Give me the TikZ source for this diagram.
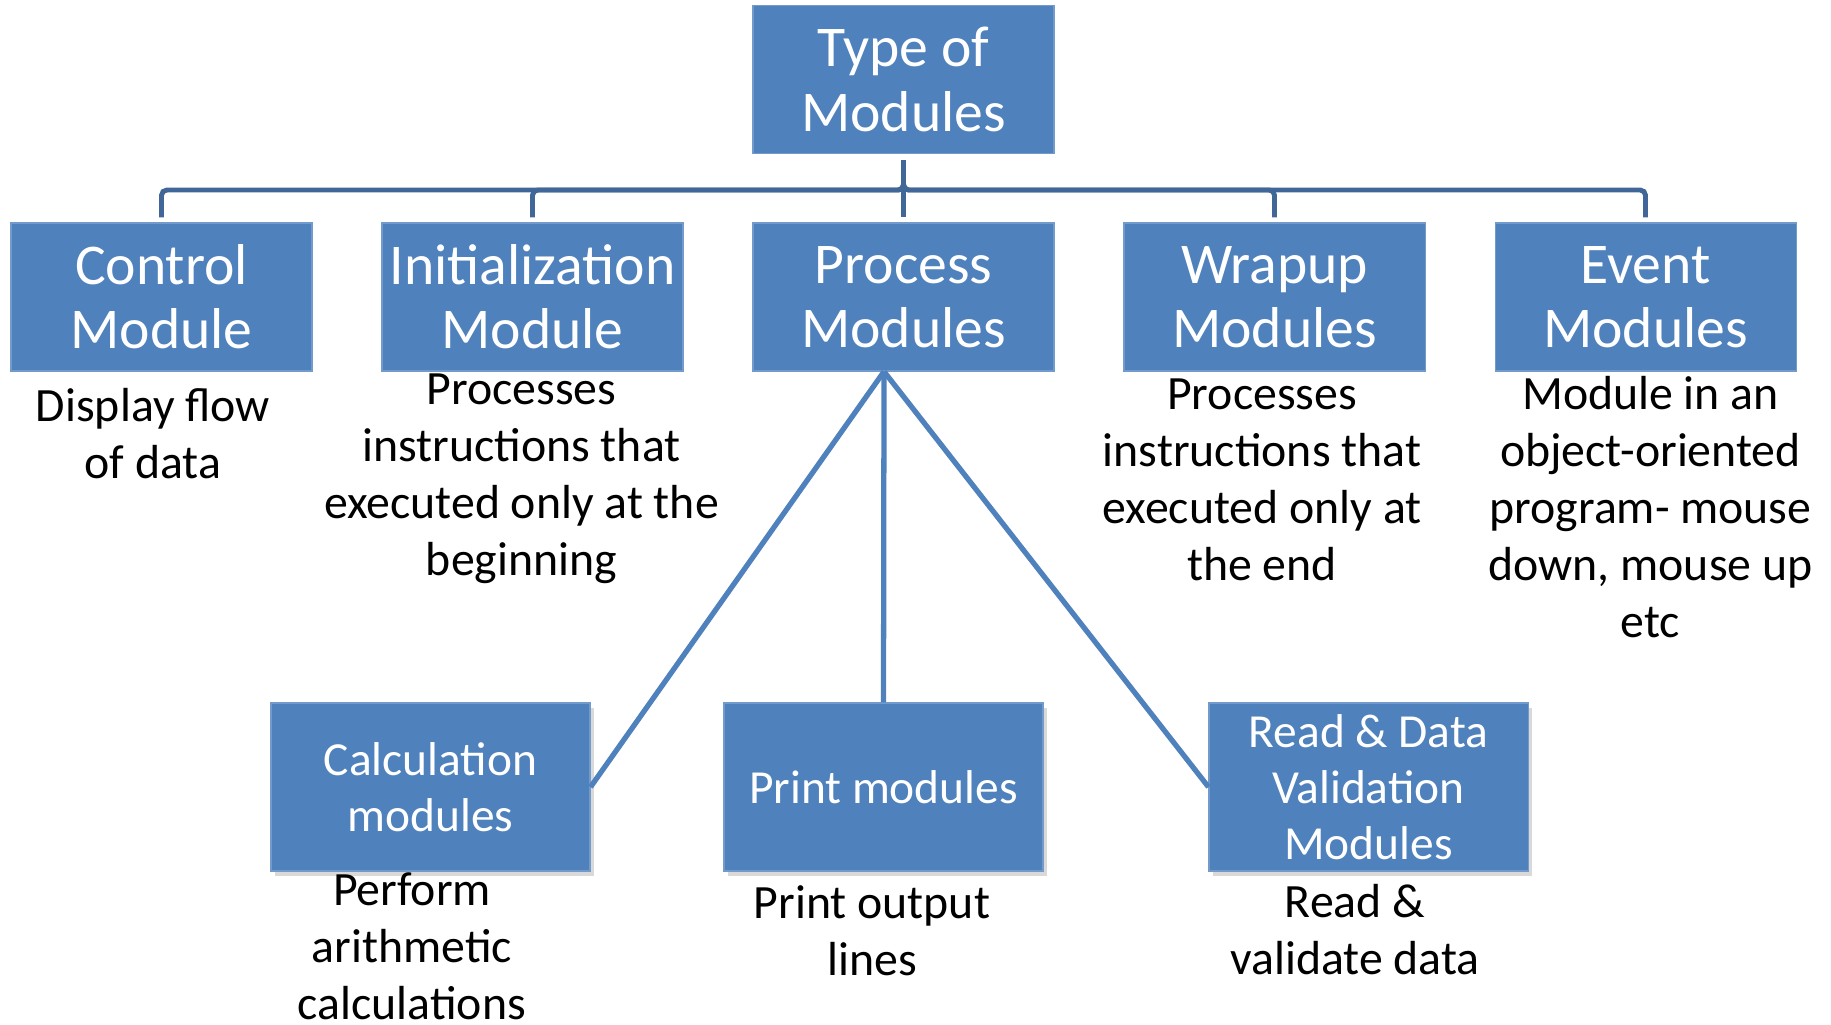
\documentclass[tikz,border=0pt]{standalone}
\usepackage{fontspec}
\setmainfont{Carlito}
\usepackage{tikz}
\usetikzlibrary{arrows,shapes,positioning,shadows,trees}
\usetikzlibrary{calc}

\definecolor{modblue}{RGB}{79,129,189}
\definecolor{linkblue}{RGB}{65,103,152}

\begin{document}
\begin{tikzpicture}[
    % 每層的垂直距離與水平距離
    level 1/.style={sibling distance=3.71cm, level distance=2.175cm},
    level 2/.style={sibling distance=4.7cm, level distance=4.9cm,
        edge from parent/.style={draw=modblue, line width=1.5pt, rounded corners=0pt}},
    % 第一層的折線
    edge from parent/.style={draw=linkblue, line width=1.4pt, rounded corners=1.5pt},
    edge from parent path={([yshift=-0.06cm]\tikzparentnode.south) -- ++(0,-0.3)
        -| ([yshift=0.05cm]\tikzchildnode.north)},
    % 第二層的直線 (由 Process 下方出發)
    leg east/.style={edge from parent path={([xshift=-0.195cm]\tikzparentnode.south) -- (\tikzchildnode.east)}},
    leg north/.style={edge from parent path={([xshift=-0.195cm]\tikzparentnode.south) -- (\tikzchildnode.north)}},
    leg west/.style={edge from parent path={([xshift=-0.195cm]\tikzparentnode.south) -- (\tikzchildnode.west)}},
    % --- 定義節點樣式 ---
    % 上面兩層的方塊
    modbox/.style={
        rectangle,
        fill=modblue,
        draw=modblue!80!white,
        line width=0.3pt,
        text=white,
        minimum width=3.01cm,
        minimum height=1.48cm,
        inner sep=0pt,
        align=center,
        font=\fontsize{16.4}{18.3}\selectfont
    },
    % 下層的方塊 (有陰影)
    subbox/.style={
        modbox,
        minimum width=3.19cm,
        minimum height=1.68cm,
        drop shadow={shadow xshift=0.04cm, shadow yshift=-0.05cm, opacity=0.3},
        font=\fontsize{13.5}{15.9}\selectfont
    },
    % 說明文字 (base = 最後一行的基線)
    note/.style={
        align=center,
        inner sep=0pt,
        anchor=base,
        font=\fontsize{13.6}{16.2}\selectfont
    }
]
\useasboundingbox (0,0) rectangle (18.31,-10.24);

% --- 繪製樹狀結構 ---
% 根節點
\node[modbox] (types) at (9.035,-0.795) {Type of\\Modules}
    child { node[modbox] (ctrl) {Control\\Module} }
    child { node[modbox] (init) {Initialization\\Module} }
    child {
        node[modbox] (proc) {Process\\Modules}
        % Process 的子節點
        child[leg east, xshift=-0.03cm] { node[subbox] (calc) {Calculation\\modules} }
        child[leg north, xshift=-0.2cm] { node[subbox] (print) {Print modules} }
        child[leg west, xshift=-0.05cm] { node[subbox] (read) {Read \& Data\\Validation\\Modules} }
    }
    child { node[modbox] (wrap) {Wrapup\\Modules} }
    child { node[modbox] (event) {Event\\Modules} };

% --- 說明文字 ---
\node[note] (ctrl-txt) at ([xshift=-0.085cm, yshift=-1.07cm]ctrl.south) {Display flow\\of data};
\node[note] (init-txt) at ([xshift=-0.11cm, yshift=-2.04cm]init.south)
    {Processes\\instructions that\\executed only at the\\beginning};
\node[note] (wrap-txt) at ([xshift=-0.125cm, yshift=-2.09cm]wrap.south)
    {Processes\\instructions that\\executed only at\\the end};
\node[note] (event-txt) at ([xshift=0.05cm, yshift=-2.66cm]event.south)
    {Module in an\\object-oriented\\program- mouse\\down, mouse up\\etc};
\node[note] (calc-txt) at ([xshift=-0.185cm, yshift=-1.48cm]calc.south)
    {Perform\\arithmetic\\calculations};
\node[note] (print-txt) at ([xshift=-0.115cm, yshift=-1.04cm]print.south) {Print output\\lines};
\node[note] (read-txt) at ([xshift=-0.135cm, yshift=-1.03cm]read.south) {Read \&\\validate data};

\end{tikzpicture}
\end{document}
